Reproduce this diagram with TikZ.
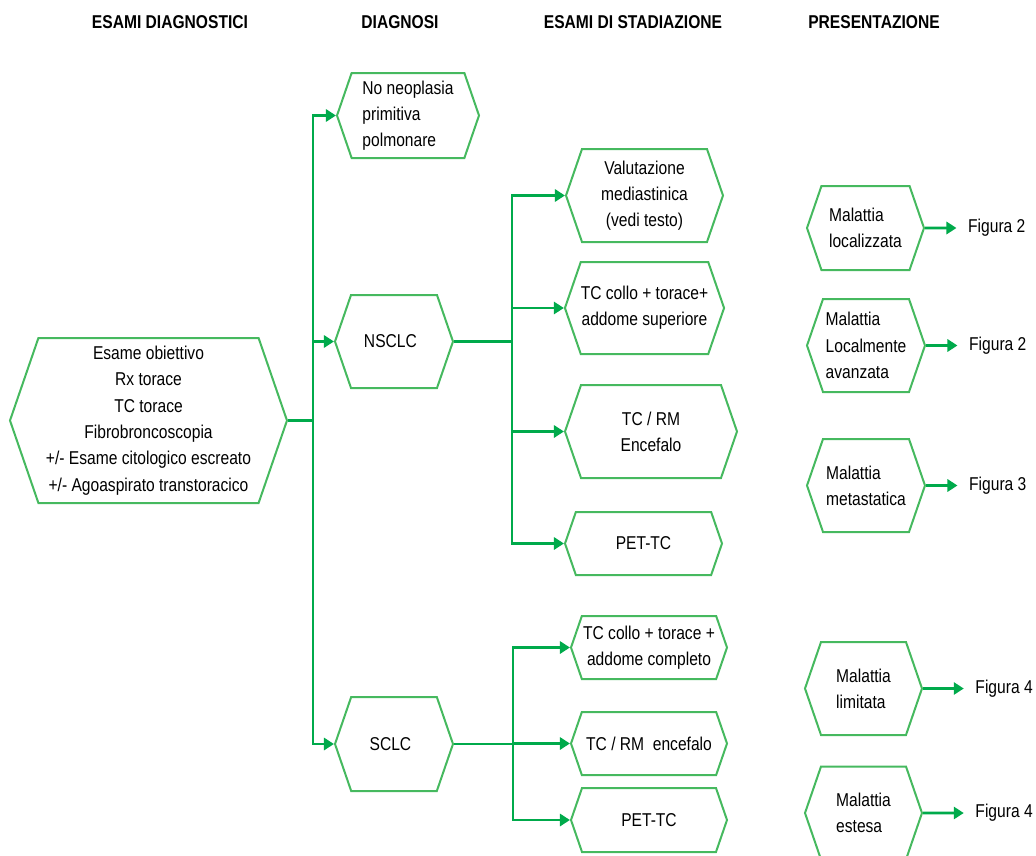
\documentclass[tikz,border=0pt]{standalone}
\usepackage{fontspec}
\setmainfont{Liberation Sans}[FakeStretch=0.84]
\usepackage{xcolor}
\usepackage{tikz}
\usetikzlibrary{arrows.meta,positioning,shapes.symbols}

\definecolor{boxgreen}{RGB}{70,185,95}
\definecolor{linegreen}{RGB}{0,170,75}
\newlength\pxu
\setlength\pxu{0.7pt}

\begin{document}
\begin{tikzpicture}[
    x=0.7pt, y=-0.7pt,
    font=\fontsize{13}{18.4}\selectfont,
    hexa/.style={draw=boxgreen, line width=1.4pt, signal, signal to=west and east, signal pointer angle=142, inner sep=0pt, align=center},
    hexl/.style={hexa, align=left},
    head/.style={font=\fontsize{13}{16}\selectfont\bfseries},
    fig/.style={inner xsep=8pt, inner ysep=0pt},
    line/.style={draw=linegreen, line width=1.9pt},
    arrow/.style={line, -{Triangle[length=7pt, width=8.5pt]}}
  ]
    \useasboundingbox (0,0) rectangle (1036,856);

    % column titles
    \node[head] (h1) at (170,22) {ESAMI DIAGNOSTICI};
    \node[head] (h2) at (400,22) {DIAGNOSI};
    \node[head] (h3) at (633,22) {ESAMI DI STADIAZIONE};
    \node[head] (h4) at (874,22) {PRESENTAZIONE};

    % esami diagnostici e diagnosi
    \node[hexa, minimum width=277\pxu, minimum height=165\pxu] (esami) at (148.5,420.5) {Esame obiettivo\\Rx torace\\TC torace\\Fibrobroncoscopia\\+/- Esame citologico escreato\\+/- Agoaspirato transtoracico};
    \node[hexl, minimum width=142\pxu, minimum height=85\pxu] (noneo) at (408,115.5) {No neoplasia\\primitiva\\polmonare};
    \node[hexa, minimum width=118\pxu, minimum height=93\pxu] (nsclc) at (394,341.5) {NSCLC\hspace{5pt}};
    \node[hexa, minimum width=118\pxu, minimum height=94\pxu] (sclc) at (394,744) {SCLC\hspace{5pt}};

    % stadiazione
    \node[hexa, minimum width=157\pxu, minimum height=93\pxu] (val) at (644.5,195.5) {Valutazione\\mediastinica\\(vedi testo)};
    \node[hexa, minimum width=157\pxu, minimum height=92\pxu] (tcn) at (644.5,308) {TC collo + torace+\\addome superiore};
    \node[hexa, minimum width=172\pxu, minimum height=93\pxu] (tcrm) at (651,431.5) {TC / RM\\Encefalo};
    \node[hexa, minimum width=157\pxu, minimum height=63\pxu] (petn) at (643.5,543.5) {PET-TC};
    \node[hexa, minimum width=156\pxu, minimum height=63\pxu] (tcs) at (649,647.5) {TC collo + torace +\\addome completo};
    \node[hexa, minimum width=156\pxu, minimum height=63\pxu] (tcrms) at (649,743.5) {TC / RM~~encefalo};
    \node[hexa, minimum width=156\pxu, minimum height=64\pxu] (pets) at (649,820) {PET-TC};

    % presentazione
    \node[hexl, minimum width=117\pxu, minimum height=84\pxu] (loc) at (865.5,228) {Malattia\\localizzata};
    \node[hexl, minimum width=118\pxu, minimum height=93\pxu] (avz) at (866,345.5) {Malattia\\Localmente\\avanzata};
    \node[hexl, minimum width=118\pxu, minimum height=93\pxu] (meta) at (866,485.5) {Malattia\\metastatica};
    \node[hexl, minimum width=117\pxu, minimum height=93\pxu] (lim) at (863.5,688.5) {Malattia\\limitata};
    \node[hexl, minimum width=117\pxu, minimum height=93\pxu] (est) at (863.5,813) {Malattia\\estesa};

    \node[fig, right=22pt of loc] (f1) {Figura 2};
    \node[fig, right=22pt of avz] (f2) {Figura 2};
    \node[fig, right=22pt of meta] (f3) {Figura 3};
    \node[fig, right=28.5pt of lim] (f4) {Figura 4};
    \node[fig, right=28.5pt of est] (f5) {Figura 4};

    % connettori
    \draw[line] (esami.east) -- ++(25,0) coordinate (t1);
    \draw[arrow] (t1) |- (noneo.west);
    \draw[arrow] (t1) |- (nsclc.west);
    \draw[arrow] (t1) |- (sclc.west);

    \draw[line] (nsclc.east) -- ++(58,0) coordinate (t2);
    \draw[arrow] (t2) |- (val.west);
    \draw[arrow] (t2) |- (tcn.west);
    \draw[arrow] (t2) |- (tcrm.west);
    \draw[arrow] (t2) |- (petn.west);

    \draw[line] (sclc.east) -- ++(59,0) coordinate (t3);
    \draw[arrow] (t3) |- (tcs.west);
    \draw[arrow] (t3) |- (tcrms.west);
    \draw[arrow] (t3) |- (pets.west);

    \draw[arrow] (loc) -- (f1);
    \draw[arrow] (avz) -- (f2);
    \draw[arrow] (meta) -- (f3);
    \draw[arrow] (lim) -- (f4);
    \draw[arrow] (est) -- (f5);
  \end{tikzpicture}
\end{document}
